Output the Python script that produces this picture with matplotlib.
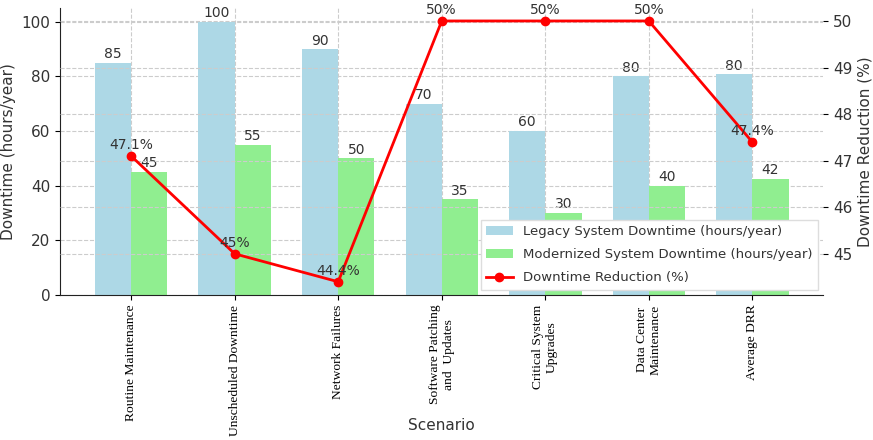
import matplotlib.pyplot as plt
import numpy as np

scenarios = ["Routine Maintenance", "Unscheduled Downtime", "Network Failures",
             "Software Patching\nand  Updates", "Critical System\nUpgrades",
             "Data Center\nMaintenance", "Average DRR"]
legacy = [85, 100, 90, 70, 60, 80, 80.8]
modern = [45, 55, 50, 35, 30, 40, 42.5]
reduction = [47.1, 45, 44.4, 50, 50, 50, 47.4]

text_color = "#333333"
x = np.arange(len(scenarios))
width = 0.35

fig, ax1 = plt.subplots(figsize=(8.73, 4.4), dpi=100)
fig.subplots_adjust(left=0.069, right=0.943, top=0.982, bottom=0.33)

b1 = ax1.bar(x - width / 2, legacy, width, color="lightblue",
             label="Legacy System Downtime (hours/year)")
b2 = ax1.bar(x + width / 2, modern, width, color="lightgreen",
             label="Modernized System Downtime (hours/year)")
ax1.bar_label(b1, labels=[str(int(v)) for v in legacy], padding=1,
              fontsize=10, color=text_color)
ax1.bar_label(b2, labels=[str(int(v)) for v in modern], padding=1,
              fontsize=10, color=text_color)

ax1.set_ylabel("Downtime (hours/year)", fontsize=11, color=text_color)
ax1.set_xlabel("Scenario", fontsize=11, color=text_color)
ax1.xaxis.set_label_coords(0.5, -0.43)
ax1.set_xticks(x)
ax1.set_xticklabels(scenarios, rotation=90, family="Liberation Serif",
                    fontsize=9.7, ha="center")
ax1.tick_params(axis="y", labelsize=11, labelcolor=text_color)
ax1.grid(True, linestyle="--", color="#cccccc", linewidth=0.8)
ax1.set_axisbelow(True)
for side in ["top", "right"]:
    ax1.spines[side].set_visible(False)
ax1.spines["left"].set_color("#222222")
ax1.spines["bottom"].set_color("#222222")

# percentage reduction on the secondary axis
ax2 = ax1.twinx()
line, = ax2.plot(x, reduction, color="red", marker="o", linewidth=2,
                 markersize=6, label="Downtime Reduction (%)")
for xi, r in zip(x, reduction):
    ax2.annotate(f"{r:g}%", (xi, r), xytext=(0, 3), textcoords="offset points",
                 ha="center", va="bottom", fontsize=10, color=text_color)
ax2.set_ylabel("Downtime Reduction (%)", fontsize=11, color=text_color)
ax2.tick_params(axis="y", labelsize=11, labelcolor=text_color)
ax2.grid(True, axis="y", linestyle="--", color="#cccccc", linewidth=0.8)
for side in ["top", "right", "left", "bottom"]:
    ax2.spines[side].set_visible(False)

ax2.legend([b1, b2, line], [b1.get_label(), b2.get_label(), line.get_label()],
           loc="lower right", fontsize=9.5, fancybox=False, framealpha=1,
           edgecolor="#dddddd", labelcolor=text_color, labelspacing=0.75,
           borderaxespad=0.4)

fig.savefig("out.png")
